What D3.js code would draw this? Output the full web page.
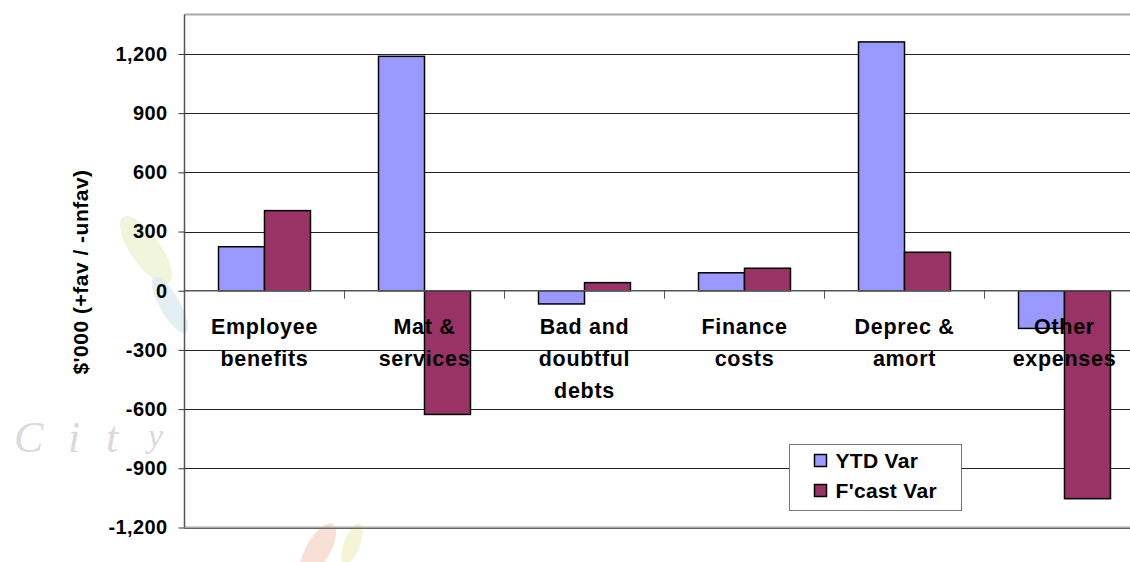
<!DOCTYPE html>
<html>
<head>
<meta charset="utf-8">
<script src="https://cdn.jsdelivr.net/npm/d3@7"></script>
<style>
  html, body { margin: 0; padding: 0; background: #fff; }
  svg { display: block; font-family: "Liberation Sans", Arial, sans-serif; }
</style>
</head>
<body>
<svg id="chart" width="1130" height="562"></svg>
<script>
const categories = [["Employee", "benefits"], ["Mat &", "services"], ["Bad and", "doubtful", "debts"], ["Finance", "costs"], ["Deprec &", "amort"], ["Other", "expenses"]];
const seriesNames = ["YTD Var", "F'cast Var"];
const ytdVar = [223, 1188, -67, 91, 1261, -191];
const fcastVar = [406, -627, 41, 114, 195, -1054];
const yTicks = [-1200, -900, -600, -300, 0, 300, 600, 900, 1200];
const colors = ["#9999FF", "#993366"];
const watermarkLetters = ["C", "i", "t", "y"];

const svg = d3.select("#chart");
const margin = { left: 184.5, top: 14.5, bottom: 527.5 };
const catKeys = categories.map(c => c.join(" "));

const x = d3.scaleBand().domain(catKeys).range([margin.left, margin.left + 960]).padding(0);
const x1 = d3.scaleBand().domain(seriesNames).range([0, x.bandwidth()]).paddingInner(0).paddingOuter(0.74);
const y = d3.scaleLinear().domain([-1200, 1400]).range([margin.bottom, margin.top]);

// watermark (faint decoration behind the chart)
const wm = svg.append("g").attr("class", "watermark");
wm.append("ellipse").attr("cx", 146).attr("cy", 250).attr("rx", 15).attr("ry", 40)
  .attr("transform", "rotate(-35,146,250)").attr("fill", "#eef3d2").attr("opacity", 0.8);
wm.append("ellipse").attr("cx", 170).attr("cy", 305).attr("rx", 10).attr("ry", 32)
  .attr("transform", "rotate(-30,170,305)").attr("fill", "#dcebf0").attr("opacity", 0.8);
wm.append("ellipse").attr("cx", 318).attr("cy", 550).attr("rx", 12).attr("ry", 30)
  .attr("transform", "rotate(30,318,550)").attr("fill", "#f8d8cc").attr("opacity", 0.8);
wm.append("ellipse").attr("cx", 352).attr("cy", 544).attr("rx", 8).attr("ry", 22)
  .attr("transform", "rotate(20,352,544)").attr("fill", "#f0f2cc").attr("opacity", 0.8);
const wmX = [14, 68, 106, 148];
const wmSize = [44, 44, 44, 34];
wm.selectAll("text").data(watermarkLetters).join("text")
  .attr("x", (d, i) => wmX[i]).attr("y", (d, i) => i === 3 ? 447 : 452)
  .attr("font-family", "'Liberation Serif', 'DejaVu Serif', serif").attr("font-style", "italic")
  .attr("font-size", (d, i) => wmSize[i]).attr("fill", "#dadada").text(d => d);

// gridlines
svg.append("g").selectAll("line").data(yTicks.filter(v => v !== 0)).join("line")
  .attr("x1", margin.left).attr("x2", 1130)
  .attr("y1", d => Math.round(y(d)) + 0.5).attr("y2", d => Math.round(y(d)) + 0.5)
  .attr("stroke", "#222").attr("stroke-width", 1);

// plot border top / bottom
svg.append("line").attr("x1", margin.left).attr("x2", 1130).attr("y1", y(1400)).attr("y2", y(1400))
  .attr("stroke", "#a8a8a8").attr("stroke-width", 2);
svg.append("line").attr("x1", margin.left).attr("x2", 1130).attr("y1", y(-1200)).attr("y2", y(-1200))
  .attr("stroke", "#a8a8a8").attr("stroke-width", 2);

// bars
const groups = svg.append("g").selectAll("g").data(catKeys).join("g")
  .attr("transform", d => `translate(${x(d)},0)`);
groups.selectAll("rect").data((d, i) => [
  { s: seriesNames[0], v: ytdVar[i], c: colors[0] },
  { s: seriesNames[1], v: fcastVar[i], c: colors[1] }
]).join("rect")
  .attr("x", d => x1(d.s))
  .attr("width", x1.bandwidth())
  .attr("y", d => y(Math.max(0, d.v)))
  .attr("height", d => Math.abs(y(d.v) - y(0)))
  .attr("fill", d => d.c)
  .attr("stroke", "#000").attr("stroke-width", 1.5);

// y axis
const fmt = d3.format(",d");
const yAxis = d3.axisLeft(y).tickValues(yTicks).tickSize(6).tickSizeOuter(0)
  .tickFormat(d => fmt(d).replace("\u2212", "-"));
const ya = svg.append("g").attr("transform", `translate(${margin.left},0)`).call(yAxis);
ya.select(".domain").attr("d", `M0,${y(1400)}V${y(-1200)}`).attr("stroke", "#555").attr("stroke-width", 1.5);
ya.selectAll(".tick line").attr("stroke", "#333");
ya.selectAll(".tick text").attr("x", -17).attr("font-size", 20).attr("font-weight", "bold")
  .attr("letter-spacing", 0.4)
  .attr("fill", "#000").attr("font-family", "'Liberation Sans', Arial, sans-serif");

// x axis at zero
const xAxisG = svg.append("g").attr("transform", `translate(0,${y(0)})`);
xAxisG.append("line").attr("x1", margin.left).attr("x2", 1130).attr("y1", 0).attr("y2", 0)
  .attr("stroke", "#555").attr("stroke-width", 1.5);
xAxisG.selectAll("line.tk").data(catKeys.slice(1)).join("line").attr("class", "tk")
  .attr("x1", d => x(d)).attr("x2", d => x(d)).attr("y1", 0).attr("y2", 8)
  .attr("stroke", "#555").attr("stroke-width", 1);

// category labels
const lbl = svg.append("g").selectAll("text").data(categories).join("text")
  .attr("x", (d, i) => x(catKeys[i]) + x.bandwidth() / 2)
  .attr("y", y(0) + 43.5)
  .attr("text-anchor", "middle").attr("font-size", 21.5).attr("font-weight", "bold")
  .attr("letter-spacing", 0.7).attr("fill", "#000");
lbl.selectAll("tspan").data(d => d).join("tspan")
  .attr("x", function() { return this.parentNode.getAttribute("x"); })
  .attr("dy", (d, i) => i === 0 ? 0 : 32)
  .text(d => d);

// y title
svg.append("text").attr("transform", "translate(88,272) rotate(-90)")
  .attr("text-anchor", "middle").attr("font-size", 21).attr("font-weight", "bold")
  .attr("letter-spacing", 0.5).attr("fill", "#000")
  .text("$'000 (+fav / -unfav)");

// legend
const lg = svg.append("g").attr("transform", "translate(789.5,444.5)");
lg.append("rect").attr("width", 172).attr("height", 66).attr("fill", "#fff").attr("stroke", "#777").attr("stroke-width", 1);
const li = lg.selectAll("g").data(seriesNames).join("g")
  .attr("transform", (d, i) => `translate(25,${10 + i * 30})`);
li.append("rect").attr("width", 12).attr("height", 12)
  .attr("fill", (d, i) => colors[i]).attr("stroke", "#000").attr("stroke-width", 1.5);
li.append("text").attr("x", 21).attr("y", 6).attr("dy", "0.36em")
  .attr("font-size", 21).attr("font-weight", "bold").attr("letter-spacing", 0.3)
  .attr("fill", "#000").text(d => d);
</script>
</body>
</html>
